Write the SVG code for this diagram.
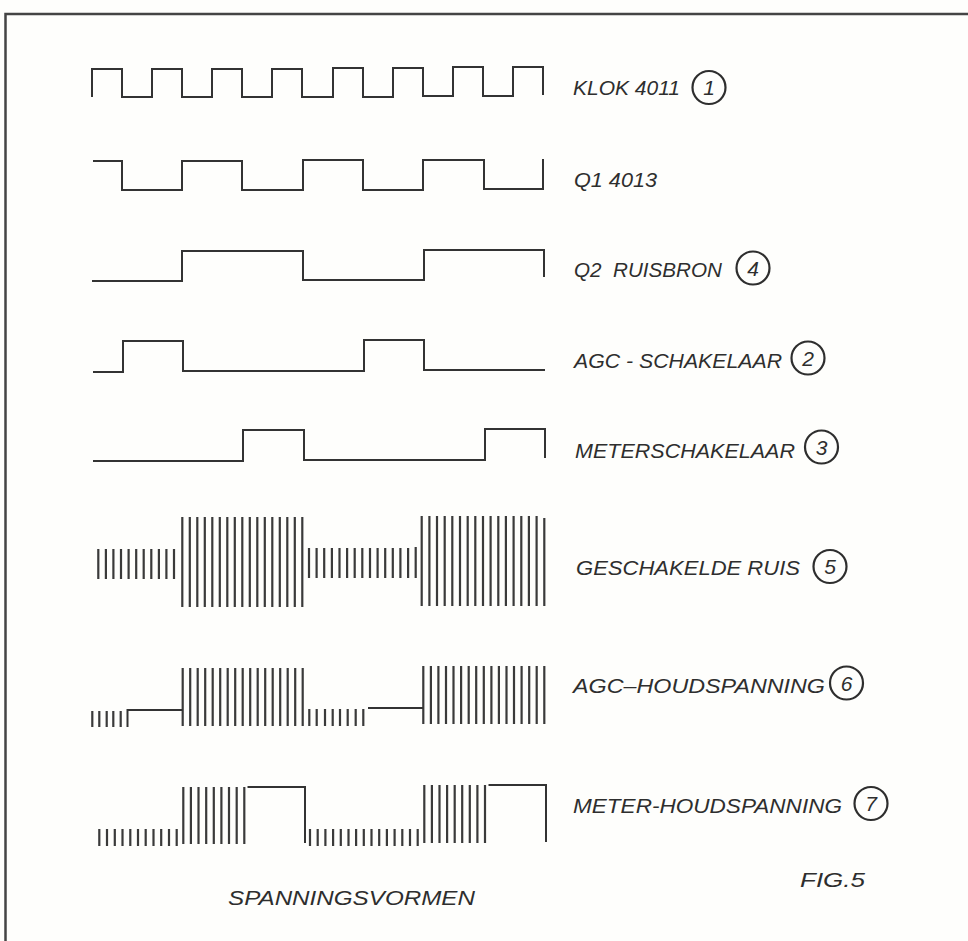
<svg xmlns="http://www.w3.org/2000/svg" width="968" height="941" viewBox="0 0 968 941">
<style>
.w{fill:none;stroke:#333;stroke-width:2;stroke-linejoin:miter;stroke-linecap:butt}
.b{fill:none;stroke:#3a3a3a;stroke-width:2.2}
.t{font-family:"Liberation Sans",Arial,sans-serif;font-style:italic;font-size:21px;fill:#2e2e2e}
.n{font-family:"Liberation Sans",Arial,sans-serif;font-style:italic;font-size:21px;fill:#2e2e2e;text-anchor:middle}
.c{fill:none;stroke:#2e2e2e;stroke-width:2.2}
.f{fill:none;stroke:#444;stroke-width:2.5}
</style>
<rect width="968" height="941" fill="#fefefc"/>
<g id="frame"><path class="f" d="M5.5 941 V14 H968"/></g>

<g id="klok">
<path class="w" d="M92 97 V69 H122 V97 H152 V69 H182 V97 H212 V69 H242 V97 H272 V69 H302 V97 H333 V68 H363 V97 H393 V68 H423 V96 H453 V67 H483 V96 H513 V67 H543 V95"/>
<text class="t" x="573" y="95" font-size="20" textLength="107" lengthAdjust="spacingAndGlyphs">KLOK 4011</text>
<circle class="c" cx="709" cy="87.5" r="16.5"/><text class="n" x="709" y="95">1</text>
</g>

<g id="q1">
<path class="w" d="M93 161 H122 V190 H182 V161 H242 V190 H303 V160 H363 V190 H423 V160 H484 V189 H543 V159"/>
<text class="t" x="574" y="187" font-size="20" textLength="83" lengthAdjust="spacingAndGlyphs">Q1 4013</text>
</g>

<g id="q2">
<path class="w" d="M92 281 H182 V251 H303 V280 H424 V250 H544 V277"/>
<text class="t" x="574" y="277" textLength="148" lengthAdjust="spacingAndGlyphs" xml:space="preserve">Q2  RUISBRON</text>
<circle class="c" cx="753" cy="268" r="16.5"/><text class="n" x="753" y="275.5">4</text>
</g>

<g id="agc">
<path class="w" d="M93 372 H123 V341 H183 V371 H364 V340 H424 V370 H545"/>
<text class="t" x="574" y="368" font-size="22" textLength="208" lengthAdjust="spacingAndGlyphs">AGC - SCHAKELAAR</text>
<circle class="c" cx="808" cy="358" r="16.5"/><text class="n" x="808" y="365.5">2</text>
</g>

<g id="meter">
<path class="w" d="M93 461 H243 V430 H304 V460 H485 V429 H545 V458"/>
<text class="t" x="575" y="458" textLength="220" lengthAdjust="spacingAndGlyphs">METERSCHAKELAAR</text>
<circle class="c" cx="821.5" cy="447" r="16.5"/><text class="n" x="821.5" y="454.5">3</text>
</g>

<g id="ruis">
<path class="b" d="M98.3 549V579M105.9 549V579M113.4 549V579M121 549V579M128.6 549V579M136.2 549V579M143.7 549V579M151.3 549V579M158.9 549V579M166.4 549V579M174 549V579
M182.3 517V607M189.8 517V607M197.3 517V607M204.8 517V607M212.3 517V607M219.8 517V607M227.3 517V607M234.8 517V607M242.3 517V607M249.8 517V607M257.3 517V607M264.8 517V607M272.3 517V607M279.8 517V607M287.3 517V607M294.8 517V607M302.3 517V607
M309 548V578M316.6 548V578M324.2 548V578M331.9 548V578M339.5 548V578M347.1 548V578M354.7 548V578M362.3 548V578M370 548V578M377.6 548V578M385.2 548V578M392.8 548V578M400.4 548V578M408.1 548V578M415.7 547V578
M421.7 516V606M429.4 516V606M437 516V606M444.7 516V606M452.3 516V606M460 516V606M467.7 516V606M475.3 516V606M483 516V606M490.6 516V606M498.3 516V606M505.9 516V606M513.6 516V606M521.3 516V606M528.9 516V606M536.6 516V606M544.3 518V606"/>
<text class="t" x="576" y="575" textLength="224" lengthAdjust="spacingAndGlyphs">GESCHAKELDE RUIS</text>
<circle class="c" cx="830" cy="566.5" r="16.5"/><text class="n" x="830" y="574">5</text>
</g>

<g id="agc-houd">
<path class="b" d="M92.3 711V727M99.3 711V727M106.7 711V727M113.3 711V727M120.7 711V727
M182.7 668V726M190.2 668V726M197.7 668V726M205.2 668V726M212.7 668V726M220.2 668V726M227.7 668V726M235.2 668V726M242.7 668V726M250.2 668V726M257.7 668V726M265.2 668V726M272.7 668V726M280.2 668V726M287.7 668V726M295.2 668V726M302.7 668V726
M309.3 709V726M316.7 709V726M325 709V726M332.7 709V726M340 709V726M347.7 709V726M355.7 709V726M363.3 709V726
M423.3 666V724M430.9 666V724M438.4 666V724M446 666V724M453.5 666V724M461.1 666V724M468.7 666V724M476.2 666V724M483.8 666V724M491.4 666V724M498.9 666V724M506.5 666V724M514 666V724M521.6 666V724M529.2 666V724M536.7 666V724M544.3 666V724"/>
<path class="w" d="M127.5 727 V710 H183 M368 708 H423"/>
<text class="t" x="573" y="693" font-size="22" textLength="252" lengthAdjust="spacingAndGlyphs">AGC–HOUDSPANNING</text>
<circle class="c" cx="846.5" cy="683" r="16.5"/><text class="n" x="846.5" y="690.5">6</text>
</g>

<g id="meter-houd">
<path class="b" d="M99.3 829V846M107 829V846M114.8 829V846M122.5 829V846M130.3 829V846M138 829V846M145.7 829V846M153.5 829V846M161.2 829V846M169 829V846M176.7 829V846
M183.3 787V844M190.9 787V844M198.5 787V844M206.2 787V844M213.8 787V844M221.4 787V844M229 787V844M236.7 787V844M244.3 787V844
M310 829V846M317.7 829V846M325.4 829V846M333.1 829V846M340.8 829V846M348.5 829V846M356.1 829V846M363.8 829V846M371.5 829V846M379.2 829V846M386.9 829V846M394.6 829V846M402.3 829V846M410 829V846M417.7 829V846
M424.3 785V843M431.9 785V843M439.5 785V843M447.1 785V843M454.7 785V843M462.2 785V843M469.8 785V843M477.4 785V843M485 785V843"/>
<path class="w" d="M247.5 787 H305 V843 M488.5 785 H546 V842"/>
<text class="t" x="573" y="813" textLength="269" lengthAdjust="spacingAndGlyphs">METER-HOUDSPANNING</text>
<circle class="c" cx="871" cy="803.5" r="16.5"/><text class="n" x="871" y="811">7</text>
</g>

<g id="captions">
<text class="t" x="228" y="905" textLength="247" lengthAdjust="spacingAndGlyphs">SPANNINGSVORMEN</text>
<text class="t" x="800" y="887" textLength="65" lengthAdjust="spacingAndGlyphs">FIG.5</text>
</g>
<g id="connectors"/>
</svg>
